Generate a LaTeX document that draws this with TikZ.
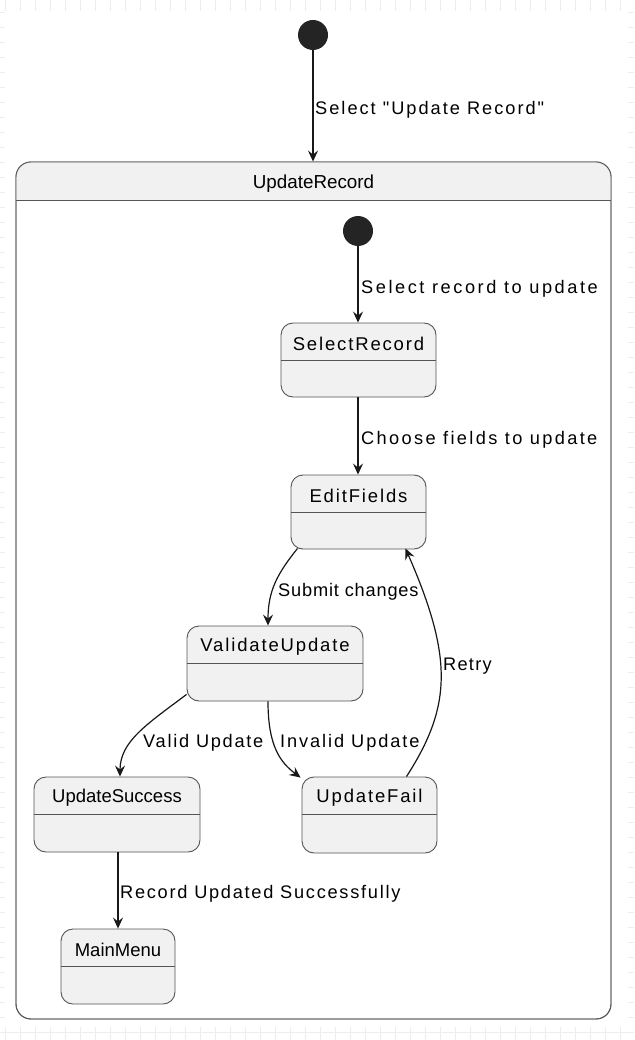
\documentclass[tikz,border=0pt]{standalone}
\usepackage{fontspec}
\setmainfont{Liberation Sans}
\newfontfamily\lblfont{Liberation Sans}
\newfontfamily\spfont[LetterSpace=10]{Liberation Sans}
\newfontfamily\ttlfont{Liberation Sans}
\newcommand\ls[1]{\addfontfeature{LetterSpace=#1}}
\usetikzlibrary{arrows.meta,calc}
\definecolor{sfill}{HTML}{F1F1F1}
\definecolor{sline}{HTML}{181818}
\definecolor{bline}{HTML}{555555}
\definecolor{gridc}{HTML}{EDEDED}
\newcommand\mystate[7]{%
  \node[statebox, minimum width=#4pt, minimum height=#5pt] (#1) at (#2,#3) {};
  \draw[draw=bline, line width=0.9pt] ([yshift=-38pt]#1.north west) -- ([yshift=-38pt]#1.north east);
  \node[ttl] (#1-t) at ([yshift=-21pt]#1.north) {#7#6};
}
\begin{document}
\begin{tikzpicture}[x=1pt,y=-1pt,
  statebox/.style={draw=bline, fill=sfill, rounded corners=12pt, line width=0.9pt, inner sep=0pt},
  init/.style={circle, fill=sline!95, minimum size=30pt, inner sep=0pt},
  tr/.style={draw=sline, line width=1.2pt, -{Stealth[length=11pt,width=10pt,inset=4pt]}},
  lbl/.style={font=\lblfont\fontsize{18.2}{20}\selectfont, anchor=west, inner sep=0pt, text=black, yshift=-1.5pt},
  ttl/.style={font=\fontsize{18.5}{20}\selectfont, inner sep=0pt, text=black}]
\useasboundingbox (0,0) rectangle (634,1040);
% background grid
\foreach \x in {5,20,...,634} \draw[gridc, line width=0.6pt] (\x,0) -- (\x,1040);
\foreach \y in {12,27,...,1040} \draw[gridc, line width=0.6pt] (0,\y) -- (634,\y);
\fill[white] (5,11) rectangle (628,1027);
% container
\node[statebox, rounded corners=15pt, fill=white, minimum width=595pt, minimum height=857pt] (ur) at (313.5,590.5) {};
\begin{scope}
  \clip[rounded corners=15pt] (16,162) rectangle (611,1019);
  \fill[sfill] (16,162) rectangle (611,200);
\end{scope}
\draw[bline, line width=0.9pt, rounded corners=15pt] (16,162) rectangle (611,1019);
\draw[bline, line width=0.9pt] (16,200) -- (611,200);
\node[ttl, font=\ttlfont\fontsize{18.8}{20}\selectfont] (ur-t) at (313.5,184) {UpdateRecord};
% initial states
\node[init] (i1) at (313,35) {};
\node[init] (i2) at (358,231) {};
% states
\mystate{sr}{358.5}{360}{155}{74}{SelectRecord}{\spfont}
\mystate{ef}{358.5}{512}{135}{74}{EditFields}{\spfont}
\mystate{vu}{275}{663.5}{176}{75}{ValidateUpdate}{\spfont}
\mystate{uf}{369.5}{815}{135}{76}{UpdateFail}{\spfont}
\mystate{us}{117}{814.5}{166}{75}{UpdateSuccess}{\ttlfont}
\mystate{mm}{118}{966.5}{114}{75}{MainMenu}{\ttlfont}
% transitions
\draw[tr] (i1) -- (ur.north -| i1);
\draw[tr] (i2) -- (sr.north -| i2);
\draw[tr] (sr.south -| i2) -- (ef.north -| i2);
\draw[tr] ($(ef.south)+(-61,-1)$) .. controls +(-20,25) and +(0,-35) .. ($(vu.north)+(-7,0)$);
\draw[tr] ($(vu.south)+(-7,0)$) .. controls +(0,45) and +(-20,-15) .. ($(uf.north west)+(-1,1)$);
\draw[tr] ($(uf.north)+(37,0)$) .. controls +(45,-70) and +(48,110) .. ($(ef.south)+(47,-1)$);
\draw[tr] ($(vu.south west)+(0,-7)$) .. controls +(-40,30) and +(0,-35) .. ($(us.north)+(3,0)$);
\draw[tr] (mm.north |- us.south) -- (mm.north);
% labels
\node[lbl] (l1) at (315,108) {\ls{11}Select "Update Record"};
\node[lbl] (l2) at (361,287) {\ls{14}Select record to update};
\node[lbl] (l3) at (361,438) {\ls{13}Choose fields to update};
\node[lbl] (l4) at (278,590) {\ls{4.5}Submit changes};
\node[lbl] (l5) at (280,741) {\ls{10.5}Invalid Update};
\node[lbl] (l6) at (443,665) {\ls{7}Retry};
\node[lbl] (l7) at (143,741) {\ls{9.5}Valid Update};
\node[lbl] (l8) at (120,892) {\ls{9.5}Record Updated Successfully};
\end{tikzpicture}
\end{document}
